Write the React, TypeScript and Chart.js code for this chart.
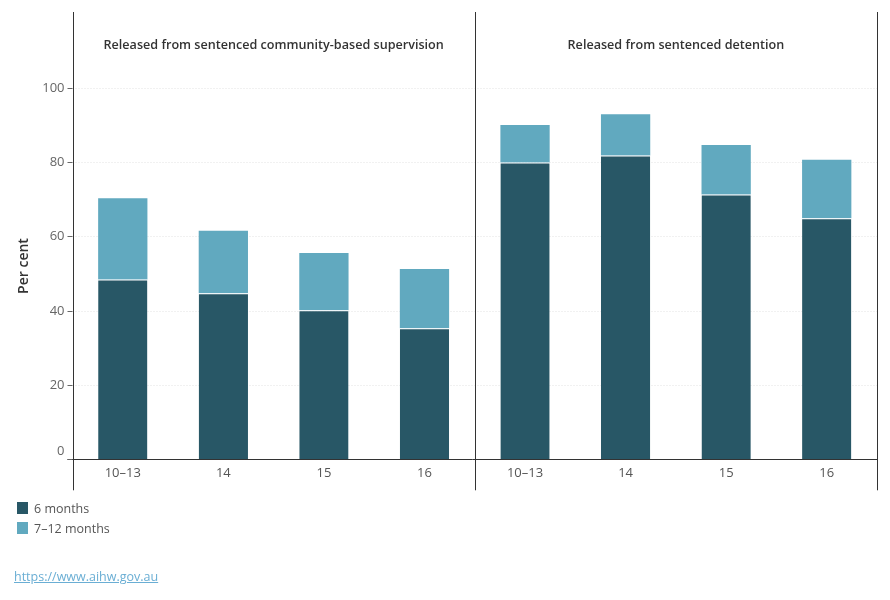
import React, { useEffect, useRef } from "react";
import { Chart, registerables } from "chart.js";

Chart.register(...registerables);

// Age groups shown in each panel
const ageGroups = ["10–13", "14", "15", "16"];
// Panel headings (left, right)
const panelTitles = [
  "Released from sentenced community-based supervision",
  "Released from sentenced detention",
];
// Per cent returning within 6 months (left panel then right panel)
const sixMonths = [48.4, 44.7, 40.1, 35.3, 79.9, 81.8, 71.3, 64.9];
// Additional per cent returning within 7–12 months
const sevenToTwelveMonths = [21.9, 16.8, 15.4, 15.9, 10.1, 11.1, 13.3, 15.7];
// Y-axis tick values
const yTicks = [0, 20, 40, 60, 80, 100];
const seriesNames = ["6 months", "7–12 months"];

const DARK = "#285766";
const LIGHT = "#61a9bf";
const FONT = "'Open Sans', 'Noto Sans', sans-serif";

const panelPlugin = {
  id: "panelFrame",
  beforeDatasetsDraw(chart: any) {
    const { ctx, chartArea, scales } = chart;
    const y = scales.y;
    ctx.save();
    ctx.strokeStyle = "#e2e2e2";
    ctx.lineWidth = 1;
    ctx.setLineDash([1, 2]);
    for (const v of yTicks) {
      if (v === 0) continue;
      const py = Math.round(y.getPixelForValue(v)) + 0.5;
      ctx.beginPath();
      ctx.moveTo(chartArea.left, py);
      ctx.lineTo(chartArea.right, py);
      ctx.stroke();
    }
    ctx.restore();
  },
  afterDraw(chart: any) {
    const { ctx, chartArea, scales } = chart;
    const x = scales.x;
    const y = scales.y;
    const mid = (x.getPixelForValue(3) + x.getPixelForValue(4)) / 2;
    const top = chartArea.top;
    const bottom = chartArea.bottom + 31;
    const base = Math.round(y.getPixelForValue(0)) + 0.5;
    ctx.save();
    ctx.strokeStyle = "#333333";
    ctx.lineWidth = 1;
    ctx.setLineDash([]);
    // panel borders
    for (const px of [chartArea.left, mid, chartArea.right]) {
      const rx = Math.round(px) + 0.5;
      ctx.beginPath();
      ctx.moveTo(rx, top);
      ctx.lineTo(rx, bottom);
      ctx.stroke();
    }
    // baseline
    ctx.beginPath();
    ctx.moveTo(chartArea.left - 5, base);
    ctx.lineTo(chartArea.right, base);
    ctx.stroke();
    // y tick marks and labels
    ctx.fillStyle = "#666666";
    ctx.font = `13px ${FONT}`;
    ctx.textAlign = "right";
    ctx.textBaseline = "middle";
    for (const v of yTicks) {
      const py = Math.round(y.getPixelForValue(v)) + 0.5;
      ctx.strokeStyle = "#666666";
      ctx.beginPath();
      ctx.moveTo(chartArea.left - 5, py);
      ctx.lineTo(chartArea.left, py);
      ctx.stroke();
      ctx.fillText(String(v), chartArea.left - 8, v === 0 ? py - 8 : py);
    }
    // y axis title
    ctx.save();
    ctx.translate(24, 266);
    ctx.rotate(-Math.PI / 2);
    ctx.textAlign = "center";
    ctx.fillStyle = "#333333";
    ctx.font = `600 14px ${FONT}`;
    ctx.fillText("Per cent", 0, 0);
    ctx.restore();
    // panel titles
    ctx.fillStyle = "#333333";
    ctx.font = `600 12.6px ${FONT}`;
    ctx.textAlign = "center";
    const centers = [(chartArea.left + mid) / 2, (mid + chartArea.right) / 2];
    panelTitles.forEach((t, i) => ctx.fillText(t, centers[i], 45));
    ctx.restore();
  },
};

export default function App() {
  const ref = useRef<HTMLCanvasElement>(null);

  useEffect(() => {
    if (!ref.current) return;
    const labels = panelTitles.flatMap(() => ageGroups);
    const chart = new Chart(ref.current, {
      type: "bar",
      data: {
        labels,
        datasets: [
          {
            label: seriesNames[0],
            data: sixMonths,
            backgroundColor: DARK,
            borderColor: "#ffffff",
            borderWidth: { top: 1, right: 0, bottom: 0, left: 0 },
            borderSkipped: false,
            barPercentage: 0.49,
            categoryPercentage: 1,
          },
          {
            label: seriesNames[1],
            data: sevenToTwelveMonths,
            backgroundColor: LIGHT,
            borderWidth: 0,
            barPercentage: 0.49,
            categoryPercentage: 1,
          },
        ],
      },
      options: {
        responsive: false,
        maintainAspectRatio: false,
        animation: false,
        layout: { padding: { left: 0, right: 13, top: 12, bottom: 0 } },
        plugins: { legend: { display: false }, tooltip: { enabled: false } },
        scales: {
          x: {
            stacked: true,
            grid: { display: false, drawTicks: false },
            border: { display: false },
            ticks: {
              color: "#555555",
              font: { family: FONT, size: 13 },
              padding: 6,
              maxRotation: 0,
              autoSkip: false,
            },
            afterFit: (s: any) => {
              s.height = 140.7;
            },
          },
          y: {
            stacked: true,
            min: 0,
            max: 120.4,
            grid: { display: false, drawTicks: false },
            border: { display: false },
            ticks: { display: false, stepSize: 20 },
            afterFit: (s: any) => {
              s.width = 72.5;
            },
          },
        },
      },
      plugins: [panelPlugin],
    });
    return () => chart.destroy();
  }, []);

  const legendColors = [DARK, LIGHT];

  return (
    <div style={{ position: "absolute", left: 0, top: 0, width: 890, height: 600, background: "#fff" }}>
      <canvas ref={ref} width={890} height={600} style={{ width: 890, height: 600, display: "block" }} />
      {seriesNames.map((name, i) => (
        <div
          key={name}
          style={{
            position: "absolute",
            left: 17,
            top: 500 + i * 20,
            height: 16,
            display: "flex",
            alignItems: "center",
            fontFamily: FONT,
            fontSize: 12.5,
            color: "#555555",
          }}
        >
          <span style={{ display: "inline-block", width: 11, height: 12, background: legendColors[i], marginRight: 6 }} />
          {name}
        </div>
      ))}
      <a
        href="https://www.aihw.gov.au"
        style={{
          position: "absolute",
          left: 14,
          top: 568,
          fontFamily: FONT,
          fontSize: 12.5,
          color: "#6aaed4",
          textDecoration: "underline",
        }}
      >
        https://www.aihw.gov.au
      </a>
    </div>
  );
}
